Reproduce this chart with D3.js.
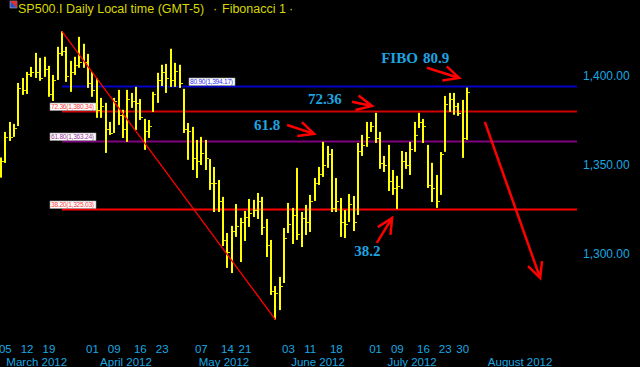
<!DOCTYPE html>
<html>
<head>
<meta charset="utf-8">
<script src="https://cdnjs.cloudflare.com/ajax/libs/d3/7.8.5/d3.min.js"></script>
<style>
body { margin: 0; background: #000; overflow: hidden; }
svg { display: block; background: #000; }
</style>
</head>
<body>
<svg width="640" height="367"></svg>
<script>
// daily bars (bar index = trading day)
var highs = [1354.2, 1368.6, 1374.2, 1373.1, 1396.1, 1398.9, 1402.3, 1405.1, 1413.0, 1410.2,
    1410.8, 1405.7, 1400.6, 1416.4, 1425.1, 1416.4, 1408.5, 1410.8, 1422.0, 1418.1,
    1412.4, 1402.3, 1398.9, 1387.7, 1384.9, 1374.2, 1387.7, 1392.2, 1381.0, 1392.2,
    1390.5, 1393.9, 1387.1, 1375.9, 1375.3, 1391.1, 1401.8, 1406.3, 1406.8, 1415.3,
    1407.4, 1406.3, 1392.8, 1373.6, 1371.4, 1364.1, 1365.8, 1364.1, 1353.4, 1348.9,
    1341.6, 1332.1, 1311.8, 1315.8, 1328.1, 1320.3, 1324.2, 1330.9, 1330.4, 1334.3,
    1332.1, 1319.7, 1307.9, 1282.0, 1287.1, 1314.6, 1328.7, 1325.9, 1348.4, 1323.6,
    1327.6, 1333.2, 1342.7, 1348.9, 1363.0, 1360.7, 1359.0, 1342.7, 1331.5, 1324.7,
    1333.7, 1332.6, 1362.4, 1366.9, 1374.2, 1374.2, 1379.3, 1368.6, 1355.1, 1361.3,
    1347.2, 1343.9, 1357.9, 1357.3, 1363.0, 1374.2, 1379.3, 1375.9, 1361.3, 1351.2,
    1344.4, 1357.3, 1388.8, 1390.5, 1390.5, 1384.9, 1386.6, 1393.5];
var lows = [1342.9, 1351.2, 1363.5, 1365.8, 1371.9, 1389.4, 1389.9, 1399.5, 1398.9, 1397.3,
    1399.5, 1388.3, 1386.0, 1397.8, 1411.3, 1396.7, 1391.1, 1400.6, 1404.6, 1404.6,
    1393.3, 1388.3, 1376.5, 1376.5, 1356.8, 1366.9, 1368.0, 1372.5, 1365.2, 1363.0,
    1382.1, 1369.7, 1375.3, 1358.5, 1365.2, 1379.8, 1384.9, 1394.4, 1390.5, 1393.9,
    1393.9, 1393.3, 1368.0, 1352.9, 1347.2, 1342.7, 1350.0, 1347.2, 1336.0, 1323.6,
    1323.6, 1304.5, 1292.2, 1289.3, 1309.6, 1295.5, 1307.3, 1315.2, 1320.8, 1319.7,
    1310.7, 1298.3, 1277.0, 1263.2, 1268.5, 1283.7, 1311.8, 1305.6, 1307.9, 1303.9,
    1310.7, 1312.4, 1329.8, 1338.8, 1343.3, 1348.4, 1323.6, 1323.6, 1309.6, 1309.0,
    1318.0, 1312.9, 1321.9, 1355.1, 1360.2, 1368.6, 1362.4, 1347.8, 1346.1, 1335.4,
    1333.2, 1325.3, 1336.6, 1347.8, 1344.4, 1357.4, 1370.8, 1362.4, 1337.1, 1329.2,
    1325.9, 1333.2, 1357.4, 1379.8, 1378.2, 1377.6, 1354.0, 1364.1];
var closes = [1352, 1366, 1366, 1371, 1393, 1392, 1401, 1402, 1402, 1399,
    1404, 1390, 1398, 1413, 1414, 1400, 1402, 1406, 1408, 1408,
    1396, 1392, 1381, 1383, 1370, 1368, 1386, 1378, 1370, 1387,
    1386, 1385, 1377, 1369, 1372, 1390, 1398, 1402, 1399, 1398,
    1403, 1396, 1370, 1369, 1354, 1352, 1357, 1354, 1340, 1340,
    1330, 1308, 1301, 1313, 1316, 1318, 1321, 1323, 1325, 1330,
    1315, 1305, 1279, 1278, 1282, 1309, 1317, 1322, 1311, 1320,
    1318, 1330, 1340, 1345, 1350, 1356, 1326, 1330, 1318, 1317,
    1328, 1318, 1358, 1361, 1366, 1372, 1365, 1351, 1350, 1341,
    1337, 1338, 1352, 1350, 1359, 1367, 1374, 1372, 1339, 1337,
    1330, 1356, 1384, 1387, 1383, 1379, 1365, 1391];

// axis labels
var dayLabels = ["05", "12", "19", "01", "09", "16", "23", "07", "14", "21", "03", "11", "18", "01", "09", "16", "23", "30"];
var dayBars = [1, 6, 11, 21, 26, 32, 37, 46, 52, 56, 66, 71, 77, 86, 91, 97, 102, 106];
var monthLabels = ["March 2012", "April 2012", "May 2012", "June 2012", "July 2012", "August 2012"];
var monthBars = [8.2, 28.7, 51.2, 72.8, 94.4, 119.2];
var priceTicks = [1300, 1350, 1400];

// fibonacci tool: swing high bar -> swing low bar
var swingHighBar = 14, swingHigh = 1425.097;
var swingLowBar = 63, swingLow = 1263.177;
var fibRatios = [38.2, 61.8, 72.36, 80.9];
var fibColors = ["#ff0000", "#800080", "#d00000", "#0000c8"];
var fibTextColors = ["#ff4040", "#9a3a9a", "#ff4040", "#3030ff"];
var fibLabelX = [50, 50, 50, 189];

// hand drawn notes, in (bar, price)
var noteTexts = ["FIBO", "80.9", "72.36", "61.8", "38.2"];
var noteBars = [87.3, 96.9, 70.5, 58.1, 81.1];
var notePrices = [1407.4, 1407.4, 1384.3, 1369.7, 1298.9];
var arrowFrom = [[97.8, 1404.6], [80.6, 1385.5], [65.7, 1372.5], [86.3, 1306.2], [111.1, 1374.2]];
var arrowTo = [[105.2, 1398.9], [85.2, 1383.2], [71.9, 1367.5], [89.8, 1320.3], [123.8, 1286.5]];

var svg = d3.select("svg");
var plotRight = 577;

var x = d3.scaleLinear().domain([0, highs.length - 1]).range([1, 467]);
var y = d3.scaleLinear().domain([1300, 1400]).range([254, 76]);

var axisColor = "#1aa8e0";

// title
var title = svg.append("text")
    .attr("y", 12.5)
    .attr("font-family", "Liberation Sans, Arial, sans-serif")
    .attr("font-size", "12.5px")
    .attr("fill", "#d8d800");
title.append("tspan").attr("x", 18).text("SP500.I Daily Local time (GMT-5)");
title.append("tspan").attr("x", 213).text("\u00b7");
title.append("tspan").attr("x", 222).text("Fibonacci 1");
title.append("tspan").attr("x", 289).text("\u00b7");

var icon = svg.append("g").attr("transform", "translate(10,1)");
icon.append("rect").attr("width", 7).attr("height", 7).attr("fill", "#3050c0").attr("stroke", "#ccc").attr("stroke-width", 0.5);
icon.append("path").attr("d", "M0,0L7,0L7,7Z").attr("fill", "#e03030");

var plot = svg.append("g");
svg.append("clipPath").attr("id", "clip")
    .append("rect").attr("x", 0).attr("y", 20).attr("width", plotRight).attr("height", 320);
plot.attr("clip-path", "url(#clip)");

// fib levels
var fib = fibRatios.map(function (r, i) {
    return {
        ratio: r,
        level: swingLow + r / 100 * (swingHigh - swingLow),
        color: fibColors[i],
        textColor: fibTextColors[i],
        lx: fibLabelX[i]
    };
});

plot.selectAll(".fib")
    .data(fib)
    .enter().append("line")
    .attr("class", "fib")
    .attr("x1", x(swingHighBar))
    .attr("x2", plotRight)
    .attr("y1", function (d) { return Math.round(y(d.level)) + 0.5; })
    .attr("y2", function (d) { return Math.round(y(d.level)) + 0.5; })
    .attr("stroke", function (d) { return d.color; })
    .attr("stroke-width", 2);

// bars
var bars = plot.append("g");
highs.forEach(function (h, i) {
    var bx = Math.round(x(i));
    bars.append("rect")
        .attr("x", bx - 1)
        .attr("y", y(h))
        .attr("width", 2)
        .attr("height", Math.max(1, y(lows[i]) - y(h)))
        .attr("fill", "#ffff00");
    bars.append("rect")
        .attr("x", bx + 1)
        .attr("y", Math.round(y(closes[i])))
        .attr("width", 2)
        .attr("height", 1)
        .attr("fill", "#e6e600");
});

// trend line of the fib tool
plot.append("line")
    .attr("x1", x(swingHighBar)).attr("y1", y(swingHigh))
    .attr("x2", x(swingLowBar)).attr("y2", y(swingLow))
    .attr("stroke", "#ff0000")
    .attr("stroke-width", 1.3);

// fib labels
var fmt = d3.format(",.2f");
var labels = plot.selectAll(".fiblabel")
    .data(fib)
    .enter().append("g")
    .attr("class", "fiblabel")
    .attr("transform", function (d) { return "translate(" + d.lx + "," + (Math.round(y(d.level)) - 8) + ")"; });
labels.append("rect")
    .attr("width", 46)
    .attr("height", 7.5)
    .attr("fill", "#fff")
    .attr("stroke", "#999")
    .attr("stroke-width", 0.6);
labels.append("text")
    .attr("x", 1)
    .attr("y", 6.3)
    .attr("font-family", "Liberation Sans, Arial, sans-serif")
    .attr("font-size", "6.6px")
    .attr("textLength", 43)
    .attr("fill", function (d) { return d.textColor; })
    .text(function (d) { return d.ratio.toFixed(2) + "(" + fmt(d.level) + ")"; });

// notes
svg.selectAll(".note")
    .data(noteTexts)
    .enter().append("text")
    .attr("class", "note")
    .attr("x", function (d, i) { return x(noteBars[i]); })
    .attr("y", function (d, i) { return y(notePrices[i]); })
    .attr("font-family", "Liberation Serif, Times New Roman, serif")
    .attr("font-weight", "bold")
    .attr("font-size", "15px")
    .attr("fill", "#1ea4e0")
    .text(function (d) { return d; });

function arrowPath(a, b) {
    var x0 = x(a[0]), y0 = y(a[1]), x1 = x(b[0]), y1 = y(b[1]);
    var ang = Math.atan2(y0 - y1, x0 - x1);
    var len = 17, spread = 0.45;
    var p = d3.path();
    p.moveTo(x0, y0);
    p.lineTo(x1, y1);
    p.moveTo(x1 + len * Math.cos(ang + spread), y1 + len * Math.sin(ang + spread));
    p.lineTo(x1, y1);
    p.lineTo(x1 + len * Math.cos(ang - spread), y1 + len * Math.sin(ang - spread));
    return p.toString();
}

svg.selectAll(".arrow")
    .data(arrowFrom)
    .enter().append("path")
    .attr("class", "arrow")
    .attr("d", function (d, i) { return arrowPath(d, arrowTo[i]); })
    .attr("fill", "none")
    .attr("stroke", "#ff0000")
    .attr("stroke-width", 2.5)
    .attr("stroke-linejoin", "miter");

// right price axis
svg.selectAll(".ptick")
    .data(priceTicks)
    .enter().append("text")
    .attr("class", "ptick")
    .attr("x", 583)
    .attr("y", function (d) { return y(d); })
    .attr("dy", "0.36em")
    .attr("font-family", "Liberation Sans, Arial, sans-serif")
    .attr("font-size", "12px")
    .attr("fill", axisColor)
    .text(function (d) { return fmt(d); });

// bottom time axis, two rows
svg.selectAll(".dtick")
    .data(dayLabels)
    .enter().append("text")
    .attr("class", "dtick")
    .attr("x", function (d, i) { return x(dayBars[i]); })
    .attr("y", 353)
    .attr("text-anchor", "middle")
    .attr("font-family", "Liberation Sans, Arial, sans-serif")
    .attr("font-size", "11.5px")
    .attr("fill", axisColor)
    .text(function (d) { return d; });

svg.selectAll(".mtick")
    .data(monthLabels)
    .enter().append("text")
    .attr("class", "mtick")
    .attr("x", function (d, i) { return x(monthBars[i]); })
    .attr("y", 365.5)
    .attr("text-anchor", "middle")
    .attr("font-family", "Liberation Sans, Arial, sans-serif")
    .attr("font-size", "11.5px")
    .attr("fill", axisColor)
    .text(function (d) { return d; });
</script>
</body>
</html>
